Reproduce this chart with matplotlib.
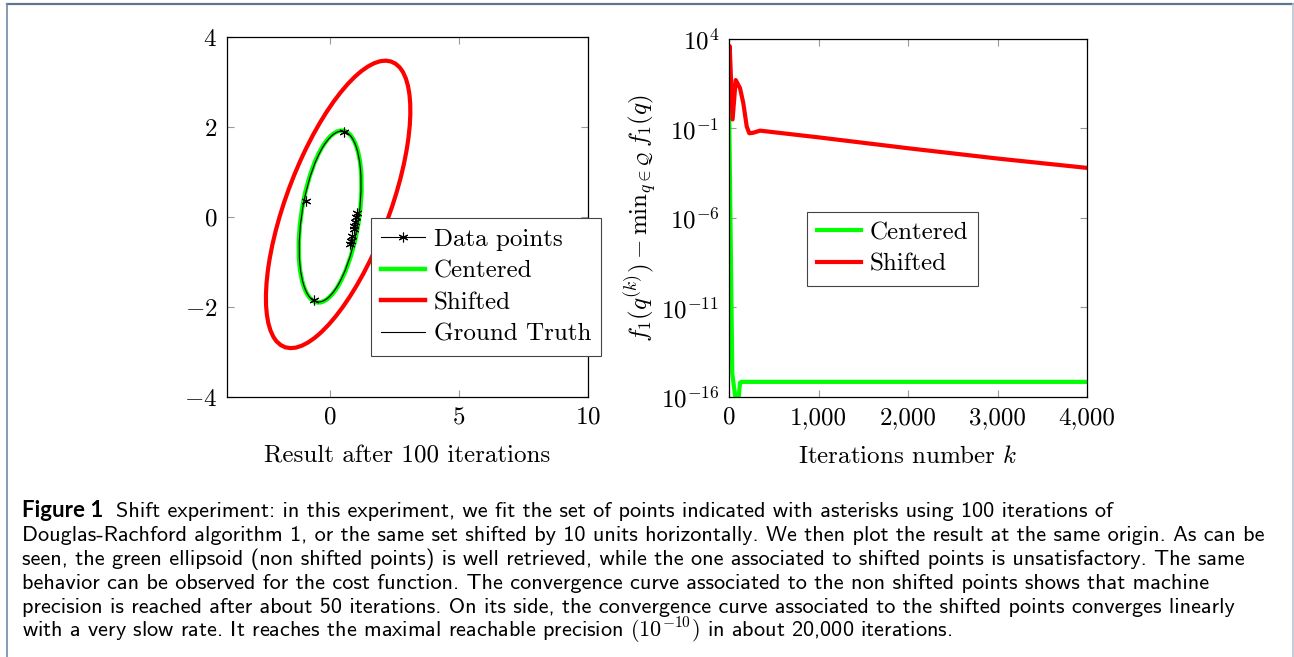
import matplotlib
matplotlib.use("Agg")
import matplotlib.pyplot as plt
from matplotlib.patches import Ellipse
from matplotlib.lines import Line2D
from matplotlib.ticker import FixedLocator, FuncFormatter, NullLocator

plt.rcParams['font.family'] = 'serif'
plt.rcParams['font.serif'] = ['cmr10']
plt.rcParams['mathtext.fontset'] = 'cm'
plt.rcParams['axes.formatter.use_mathtext'] = True

# ---------------- data ----------------
# left panel, ellipses: (center x, center y, width, height, angle deg)
truth_ellipse = (0.0, 0.01, 3.95, 2.14, 70.9)
centered_ellipse = (0.0, 0.01, 3.97, 2.18, 70.9)
shifted_ellipse = (0.31, 0.28, 7.74, 3.50, 50.7)

data_x = [0.52, -0.95, -0.61, 1.04, 1.01, 0.97, 0.93, 0.91, 0.84, 0.81, 0.78]
data_y = [1.90, 0.36, -1.84, 0.10, -0.01, -0.12, -0.19, -0.27, -0.42, -0.53, -0.60]

# right panel, cost gap vs iterations
k_centered = [0, 37, 60, 86, 105, 123, 140, 4000]
gap_centered = [5.0, 2e-15, 2.5e-16, 2.5e-17, 6.3e-17, 6.3e-16, 7e-16, 7e-16]

k_shifted = [0, 8, 40, 75, 123, 160, 198, 227, 272, 346, 1000, 2000, 3000, 4000]
gap_shifted = [5.0, 4.0e3, 0.32, 51, 18, 2.6, 0.13, 0.054, 0.058, 0.076,
               0.032, 0.0079, 0.0021, 6.3e-4]

left_xticks = [0, 5, 10]
left_yticks = [-4, -2, 0, 2, 4]
right_xticks = [0, 1000, 2000, 3000, 4000]
right_yticks = [1e4, 1e-1, 1e-6, 1e-11, 1e-16]

caption_lines = [
    "Shift experiment: in this experiment, we fit the set of points indicated with asterisks using 100 iterations of",
    "Douglas-Rachford algorithm 1, or the same set shifted by 10 units horizontally. We then plot the result at the same origin. As can be",
    "seen, the green ellipsoid (non shifted points) is well retrieved, while the one associated to shifted points is unsatisfactory. The same",
    "behavior can be observed for the cost function. The convergence curve associated to the non shifted points shows that machine",
    "precision is reached after about 50 iterations. On its side, the convergence curve associated to the shifted points converges linearly",
    "with a very slow rate. It reaches the maximal reachable precision $(10^{-10})$ in about 20,000 iterations.",
]

GREEN = '#00ff00'
RED = '#ff0000'
W, H = 1294, 657
FS = 18

fig = plt.figure(figsize=(W / 100, H / 100), dpi=100)


def px_axes(x0, y0, x1, y1):
    return fig.add_axes([x0 / W, 1 - y1 / H, (x1 - x0) / W, (y1 - y0) / H])


def style_ticks(ax):
    ax.tick_params(direction='in', length=5, width=0.8, color='#999999',
                   top=True, right=True, labelsize=FS, pad=7)
    for s in ax.spines.values():
        s.set_linewidth(0.9)


leg_kw = dict(fontsize=FS, fancybox=False, framealpha=1, edgecolor='#444444',
              handlelength=1.75, handletextpad=0.35, labelspacing=0.37,
              borderpad=0.4, borderaxespad=0)

# ---------------- left panel ----------------
ax1 = px_axes(227, 37, 588, 397)
for (cx, cy, w, h, a), col, lw, z in [(shifted_ellipse, RED, 3.0, 2),
                                      (centered_ellipse, GREEN, 3.2, 3),
                                      (truth_ellipse, 'black', 0.8, 4)]:
    ax1.add_patch(Ellipse((cx, cy), w, h, angle=a, fill=False,
                          edgecolor=col, lw=lw, zorder=z))
ax1.plot(data_x, data_y, ls='none', marker=(6, 2, 0), ms=7, mew=0.8,
         color='black', zorder=5)
ax1.set_xlim(-4, 10)
ax1.set_ylim(-4, 4)
ax1.set_xticks(left_xticks)
ax1.set_yticks(left_yticks)
style_ticks(ax1)
ax1.set_xlabel('Result after 100 iterations', fontsize=FS, labelpad=12)

handles = [
    Line2D([], [], color='black', lw=0.8, marker=(6, 2, 0), ms=7, mew=0.8),
    Line2D([], [], color=GREEN, lw=3.2),
    Line2D([], [], color=RED, lw=3.2),
    Line2D([], [], color='black', lw=0.8),
]
leg1 = ax1.legend(handles, ['Data points', 'Centered', 'Shifted', 'Ground Truth'],
                  loc='upper left', bbox_to_anchor=(0.40, 0.497), numpoints=1,
                  **leg_kw)
leg1.get_frame().set_linewidth(0.8)
leg1.set_zorder(10)

# ---------------- right panel ----------------
ax2 = px_axes(729, 39, 1087, 397)
ax2.plot(k_centered, gap_centered, color=GREEN, lw=3.0, label='Centered')
ax2.plot(k_shifted, gap_shifted, color=RED, lw=3.0, label='Shifted')
ax2.set_yscale('log')
ax2.set_xlim(0, 4000)
ax2.set_ylim(1e-16, 1e4)
ax2.xaxis.set_major_locator(FixedLocator(right_xticks))
ax2.xaxis.set_major_formatter(FuncFormatter(lambda v, p: f'{int(v):,}'))
ax2.yaxis.set_major_locator(FixedLocator(right_yticks))
ax2.yaxis.set_minor_locator(NullLocator())
style_ticks(ax2)
ax2.set_xlabel('Iterations number $k$', fontsize=FS, labelpad=12)
ax2.set_ylabel(r'$f_1(q^{(k)}) - \mathrm{min}_{q\in\mathcal{Q}}\,f_1(q)$',
               fontsize=FS, labelpad=1)
leg2 = ax2.legend(loc='upper left', bbox_to_anchor=(0.218, 0.518), **leg_kw)
leg2.get_frame().set_linewidth(0.8)

# ---------------- frame ----------------
fig.add_artist(Line2D([7 / W, 1], [1 - 4 / H, 1 - 4 / H], transform=fig.transFigure,
                      color='#5d7793', lw=1.6))
fig.add_artist(Line2D([7 / W, 7 / W], [0, 1 - 4 / H], transform=fig.transFigure,
                      color='#6f8aa6', lw=1.2))
fig.add_artist(Line2D([1292.5 / W, 1292.5 / W], [0, 1 - 4 / H], transform=fig.transFigure,
                      color='#b9c6d3', lw=1.2))

# ---------------- caption ----------------
CFS = 16
x0, base0, step = 22, 517, 24.0
head = fig.text(x0 / W, 1 - base0 / H, 'Figure 1', fontsize=CFS, fontweight='bold',
                family='Lato', va='baseline', ha='left')
fig.canvas.draw()
head_w = head.get_window_extent(fig.canvas.get_renderer()).width
for i, line in enumerate(caption_lines):
    xs = x0 + head_w + 13 if i == 0 else x0
    fig.text(xs / W, 1 - (base0 + i * step) / H, line, fontsize=CFS,
             family='cmss10', va='baseline', ha='left')

fig.savefig('out.png', dpi=100)
